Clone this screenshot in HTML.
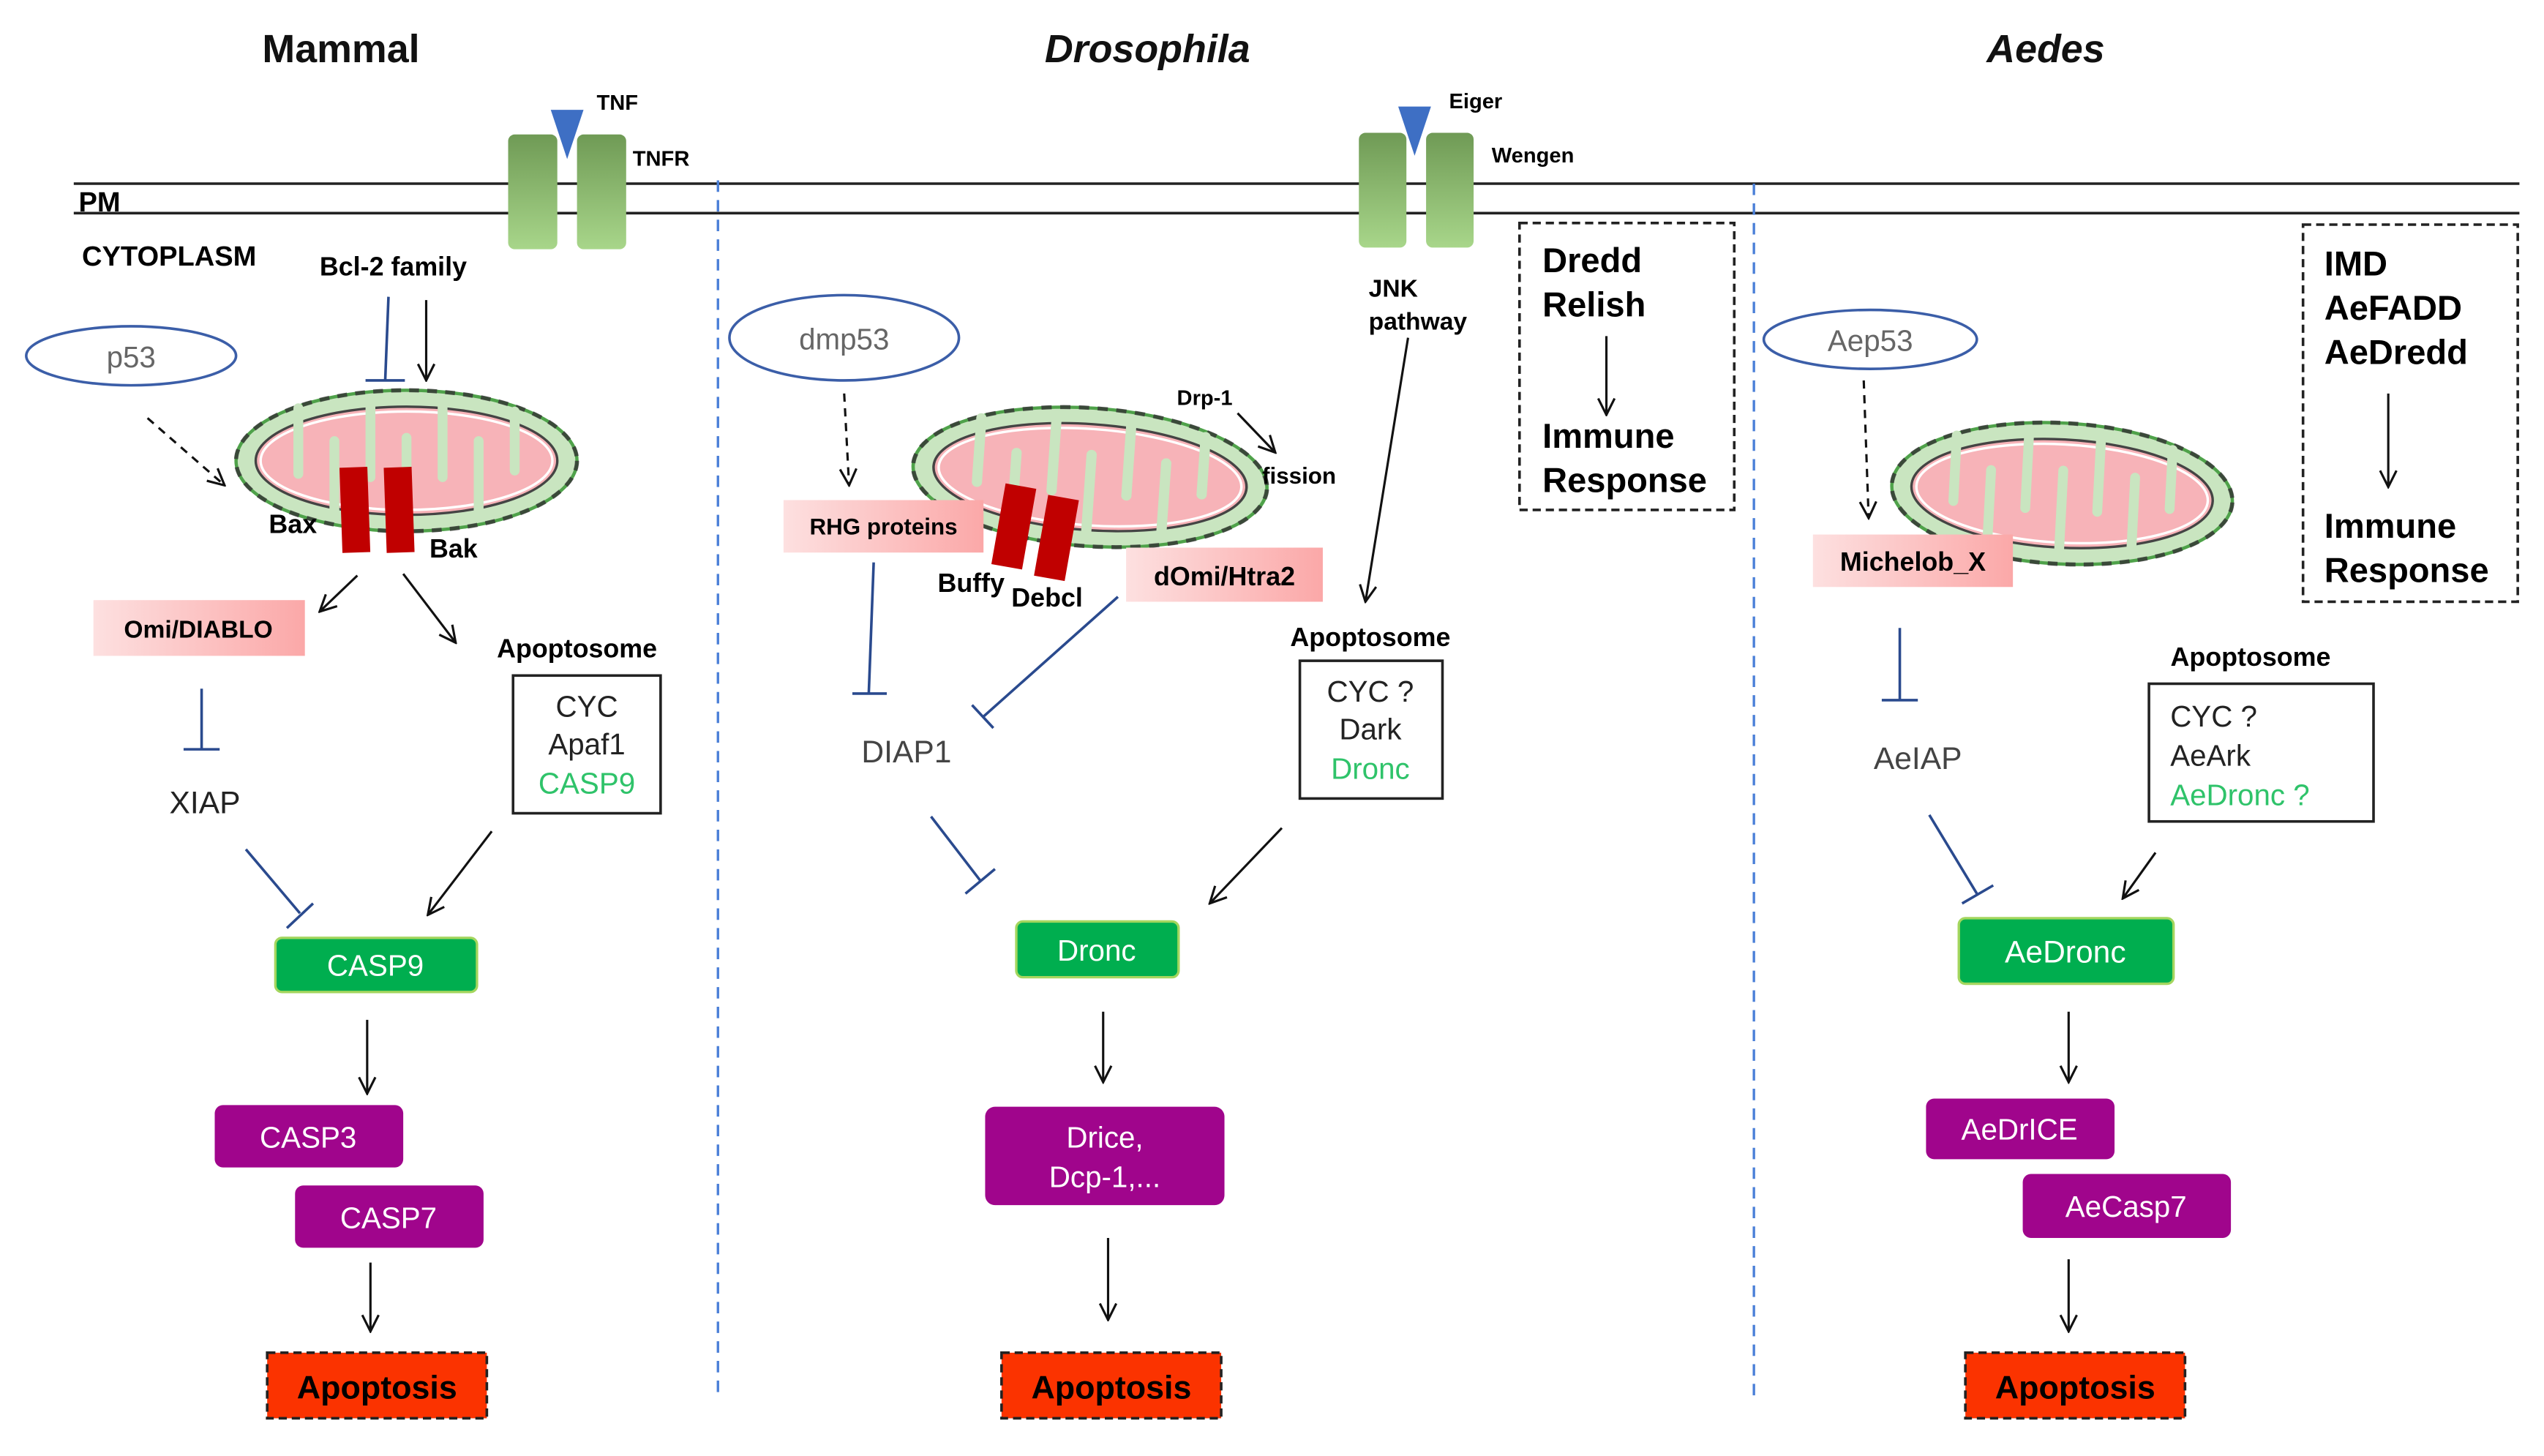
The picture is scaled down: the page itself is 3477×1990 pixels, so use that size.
<!DOCTYPE html>
<html><head><meta charset="utf-8"><style>html,body{margin:0;padding:0;background:#fff}svg{display:block}</style></head>
<body>
<svg width="3477" height="1990" viewBox="0 0 1552 888" preserveAspectRatio="none" xmlns="http://www.w3.org/2000/svg" font-family="Liberation Sans, sans-serif">
<defs>
<marker id="ar" viewBox="0 0 12 12" refX="11" refY="6" markerWidth="12" markerHeight="12" markerUnits="userSpaceOnUse" orient="auto"><path d="M1,1 L11,6 L1,11" fill="none" stroke="#111" stroke-width="1.4"/></marker>
<linearGradient id="rg" x1="0" y1="0" x2="0" y2="1"><stop offset="0" stop-color="#6f9a55"/><stop offset="1" stop-color="#a8d68a"/></linearGradient>
<linearGradient id="pg" x1="0" y1="0" x2="1" y2="0"><stop offset="0" stop-color="#fde0e0"/><stop offset="1" stop-color="#fba8a8"/></linearGradient>
<g id="mito">
<ellipse cx="0" cy="0" rx="104" ry="43" fill="#c9e5c0" stroke="#4fa24a" stroke-width="2"/>
<ellipse cx="0" cy="0" rx="104" ry="43" fill="none" stroke="#333" stroke-width="2.5" stroke-dasharray="6 5" opacity="0.8"/>
<ellipse cx="0" cy="0" rx="92" ry="33" fill="#f7b3b8" stroke="#444" stroke-width="1.5"/>
<ellipse cx="0" cy="0" rx="89" ry="30" fill="none" stroke="#fff" stroke-width="1.5"/>
<g stroke="#c9e5c0" stroke-width="6" stroke-linecap="round">
<line x1="-66" y1="-32" x2="-66" y2="8"/><line x1="-44" y1="32" x2="-44" y2="-12"/>
<line x1="-22" y1="-34" x2="-22" y2="10"/><line x1="0" y1="34" x2="0" y2="-14"/>
<line x1="22" y1="-34" x2="22" y2="10"/><line x1="44" y1="32" x2="44" y2="-12"/>
<line x1="66" y1="-30" x2="66" y2="6"/>
</g>
</g>
</defs>

<!-- titles -->
<g font-weight="bold" font-size="24" text-anchor="middle" fill="#111">
<text x="208" y="38">Mammal</text>
<text x="700" y="38" font-style="italic">Drosophila</text>
<text x="1248" y="38" font-style="italic">Aedes</text>
</g>

<!-- membrane -->
<line x1="45" y1="112" x2="1537" y2="112" stroke="#222" stroke-width="1.6"/>
<line x1="45" y1="130" x2="1537" y2="130" stroke="#222" stroke-width="1.6"/>
<text x="48" y="129" font-weight="bold" font-size="17">PM</text>
<line x1="438" y1="110" x2="438" y2="850" stroke="#4a7fd8" stroke-width="1.5" stroke-dasharray="7 5"/>
<line x1="1070" y1="112" x2="1070" y2="855" stroke="#4a7fd8" stroke-width="1.5" stroke-dasharray="7 5"/>

<!-- receptors -->
<rect x="310" y="82" width="30" height="70" rx="4" fill="url(#rg)"/>
<rect x="352" y="82" width="30" height="70" rx="4" fill="url(#rg)"/>
<polygon points="336,67 356,67 346,97" fill="#3e6fc4"/>
<text x="364" y="67" font-size="13" font-weight="bold">TNF</text>
<text x="386" y="101" font-size="13" font-weight="bold">TNFR</text>
<rect x="829" y="81" width="29" height="70" rx="4" fill="url(#rg)"/>
<rect x="870" y="81" width="29" height="70" rx="4" fill="url(#rg)"/>
<polygon points="853,65 873,65 863,95" fill="#3e6fc4"/>
<text x="884" y="66" font-size="13" font-weight="bold">Eiger</text>
<text x="910" y="99" font-size="13" font-weight="bold">Wengen</text>

<!-- ===== Mammal ===== -->
<text x="50" y="162" font-size="17" font-weight="bold">CYTOPLASM</text>
<text x="195" y="168" font-size="16" font-weight="bold">Bcl-2 family</text>
<ellipse cx="80" cy="217" rx="64" ry="18" fill="none" stroke="#3b5ea8" stroke-width="1.6"/>
<text x="80" y="224" font-size="18" text-anchor="middle" fill="#666">p53</text>
<line x1="237" y1="181" x2="235" y2="232" stroke="#2a4a8e" stroke-width="1.6"/>
<line x1="223" y1="232" x2="247" y2="232" stroke="#2a4a8e" stroke-width="1.6"/>
<line x1="260" y1="183" x2="260" y2="232" stroke="#111" stroke-width="1.4" marker-end="url(#ar)"/>
<line x1="90" y1="255" x2="137" y2="296" stroke="#111" stroke-width="1.4" stroke-dasharray="5 4" marker-end="url(#ar)"/>
<use href="#mito" transform="translate(248,281)"/>
<rect x="208" y="285" width="17" height="52" fill="#c00000" transform="rotate(-2 216 311)"/>
<rect x="235" y="285" width="17" height="52" fill="#c00000" transform="rotate(-2 243 311)"/>
<text x="164" y="325" font-size="16" font-weight="bold">Bax</text>
<text x="262" y="340" font-size="16" font-weight="bold">Bak</text>
<line x1="218" y1="351" x2="195" y2="373" stroke="#111" stroke-width="1.4" marker-end="url(#ar)"/>
<line x1="246" y1="350" x2="278" y2="392" stroke="#111" stroke-width="1.4" marker-end="url(#ar)"/>
<rect x="57" y="366" width="129" height="34" fill="url(#pg)"/>
<text x="121" y="389" font-size="15" font-weight="bold" text-anchor="middle">Omi/DIABLO</text>
<line x1="123" y1="420" x2="123" y2="457" stroke="#2a4a8e" stroke-width="1.6"/>
<line x1="112" y1="457" x2="134" y2="457" stroke="#2a4a8e" stroke-width="1.6"/>
<text x="125" y="496" font-size="19" text-anchor="middle" fill="#222">XIAP</text>
<text x="352" y="401" font-size="16" font-weight="bold" text-anchor="middle">Apoptosome</text>
<rect x="313" y="412" width="90" height="84" fill="#fff" stroke="#222" stroke-width="1.6"/>
<g font-size="18" text-anchor="middle"><text x="358" y="437" fill="#222">CYC</text><text x="358" y="460" fill="#222">Apaf1</text><text x="358" y="484" fill="#2fc36a">CASP9</text></g>
<line x1="150" y1="518" x2="183" y2="557" stroke="#2a4a8e" stroke-width="1.6"/>
<line x1="175" y1="566" x2="191" y2="551" stroke="#2a4a8e" stroke-width="1.6"/>
<line x1="300" y1="507" x2="261" y2="558" stroke="#111" stroke-width="1.4" marker-end="url(#ar)"/>
<rect x="168" y="572" width="123" height="33" rx="4" fill="#00ae4f" stroke="#a4d65e" stroke-width="1.5"/>
<text x="229" y="595" font-size="18" text-anchor="middle" fill="#fff">CASP9</text>
<line x1="224" y1="622" x2="224" y2="667" stroke="#111" stroke-width="1.4" marker-end="url(#ar)"/>
<rect x="131" y="674" width="115" height="38" rx="5" fill="#a0058c"/>
<text x="188" y="700" font-size="18" text-anchor="middle" fill="#fff">CASP3</text>
<rect x="180" y="723" width="115" height="38" rx="5" fill="#a0058c"/>
<text x="237" y="749" font-size="18" text-anchor="middle" fill="#fff">CASP7</text>
<line x1="226" y1="770" x2="226" y2="812" stroke="#111" stroke-width="1.4" marker-end="url(#ar)"/>
<rect x="163" y="825" width="134" height="40" fill="#fb3300" stroke="#222" stroke-width="1.6" stroke-dasharray="5 3"/>
<text x="230" y="853" font-size="20" font-weight="bold" text-anchor="middle">Apoptosis</text>

<!-- ===== Drosophila ===== -->
<ellipse cx="515" cy="206" rx="70" ry="26" fill="none" stroke="#3b5ea8" stroke-width="1.6"/>
<text x="515" y="213" font-size="18" text-anchor="middle" fill="#666">dmp53</text>
<line x1="515" y1="240" x2="518" y2="296" stroke="#111" stroke-width="1.4" stroke-dasharray="5 4" marker-end="url(#ar)"/>
<use href="#mito" transform="translate(665,291) rotate(4) scale(1.04,0.98)"/>
<text x="718" y="247" font-size="13" font-weight="bold">Drp-1</text>
<line x1="755" y1="252" x2="778" y2="276" stroke="#111" stroke-width="1.4" marker-end="url(#ar)"/>
<text x="770" y="295" font-size="14" font-weight="bold">fission</text>
<rect x="478" y="305" width="122" height="32" fill="url(#pg)"/>
<text x="539" y="326" font-size="14" font-weight="bold" text-anchor="middle">RHG proteins</text>
<rect x="609" y="296" width="19" height="50" fill="#c00000" transform="rotate(10 618 321)"/>
<rect x="635" y="303" width="19" height="50" fill="#c00000" transform="rotate(10 644 328)"/>
<text x="572" y="361" font-size="16" font-weight="bold">Buffy</text>
<text x="617" y="370" font-size="16" font-weight="bold">Debcl</text>
<rect x="687" y="334" width="120" height="33" fill="url(#pg)"/>
<text x="747" y="357" font-size="16" font-weight="bold" text-anchor="middle">dOmi/Htra2</text>
<line x1="533" y1="343" x2="530" y2="423" stroke="#2a4a8e" stroke-width="1.6"/>
<line x1="520" y1="423" x2="541" y2="423" stroke="#2a4a8e" stroke-width="1.6"/>
<text x="553" y="465" font-size="19" text-anchor="middle" fill="#444">DIAP1</text>
<line x1="682" y1="364" x2="600" y2="437" stroke="#2a4a8e" stroke-width="1.6"/>
<line x1="593" y1="430" x2="606" y2="444" stroke="#2a4a8e" stroke-width="1.6"/>
<text x="835" y="181" font-size="15" font-weight="bold">JNK</text>
<text x="835" y="201" font-size="15" font-weight="bold">pathway</text>
<line x1="859" y1="206" x2="833" y2="367" stroke="#111" stroke-width="1.4" marker-end="url(#ar)"/>
<text x="836" y="394" font-size="16" font-weight="bold" text-anchor="middle">Apoptosome</text>
<rect x="793" y="403" width="87" height="84" fill="#fff" stroke="#222" stroke-width="1.6"/>
<g font-size="18" text-anchor="middle"><text x="836" y="428" fill="#222">CYC ?</text><text x="836" y="451" fill="#222">Dark</text><text x="836" y="475" fill="#2fc36a">Dronc</text></g>
<rect x="927" y="136" width="131" height="175" fill="none" stroke="#222" stroke-width="1.6" stroke-dasharray="5 3"/>
<g font-size="21" font-weight="bold"><text x="941" y="166">Dredd</text><text x="941" y="193">Relish</text><text x="941" y="273">Immune</text><text x="941" y="300">Response</text></g>
<line x1="980" y1="205" x2="980" y2="253" stroke="#111" stroke-width="1.4" marker-end="url(#ar)"/>
<line x1="568" y1="498" x2="598" y2="537" stroke="#2a4a8e" stroke-width="1.6"/>
<line x1="589" y1="545" x2="607" y2="530" stroke="#2a4a8e" stroke-width="1.6"/>
<line x1="782" y1="505" x2="738" y2="551" stroke="#111" stroke-width="1.4" marker-end="url(#ar)"/>
<rect x="620" y="562" width="99" height="34" rx="4" fill="#00ae4f" stroke="#a4d65e" stroke-width="1.5"/>
<text x="669" y="586" font-size="18" text-anchor="middle" fill="#fff">Dronc</text>
<line x1="673" y1="617" x2="673" y2="660" stroke="#111" stroke-width="1.4" marker-end="url(#ar)"/>
<rect x="601" y="675" width="146" height="60" rx="6" fill="#a0058c"/>
<text x="674" y="700" font-size="18" text-anchor="middle" fill="#fff">Drice,</text>
<text x="674" y="724" font-size="18" text-anchor="middle" fill="#fff">Dcp-1,...</text>
<line x1="676" y1="755" x2="676" y2="805" stroke="#111" stroke-width="1.4" marker-end="url(#ar)"/>
<rect x="611" y="825" width="134" height="40" fill="#fb3300" stroke="#222" stroke-width="1.6" stroke-dasharray="5 3"/>
<text x="678" y="853" font-size="20" font-weight="bold" text-anchor="middle">Apoptosis</text>

<!-- ===== Aedes ===== -->
<ellipse cx="1141" cy="207" rx="65" ry="18" fill="none" stroke="#3b5ea8" stroke-width="1.6"/>
<text x="1141" y="214" font-size="18" text-anchor="middle" fill="#666">Aep53</text>
<line x1="1137" y1="232" x2="1140" y2="316" stroke="#111" stroke-width="1.4" stroke-dasharray="5 4" marker-end="url(#ar)"/>
<use href="#mito" transform="translate(1258,301) rotate(3)"/>
<rect x="1106" y="326" width="122" height="32" fill="url(#pg)"/>
<text x="1167" y="348" font-size="16" font-weight="bold" text-anchor="middle">Michelob_X</text>
<rect x="1405" y="137" width="131" height="230" fill="none" stroke="#222" stroke-width="1.6" stroke-dasharray="5 3"/>
<g font-size="21" font-weight="bold"><text x="1418" y="168">IMD</text><text x="1418" y="195">AeFADD</text><text x="1418" y="222">AeDredd</text><text x="1418" y="328">Immune</text><text x="1418" y="355">Response</text></g>
<line x1="1457" y1="240" x2="1457" y2="297" stroke="#111" stroke-width="1.4" marker-end="url(#ar)"/>
<line x1="1159" y1="383" x2="1159" y2="427" stroke="#2a4a8e" stroke-width="1.6"/>
<line x1="1148" y1="427" x2="1170" y2="427" stroke="#2a4a8e" stroke-width="1.6"/>
<text x="1170" y="469" font-size="19" text-anchor="middle" fill="#444">AeIAP</text>
<text x="1373" y="406" font-size="16" font-weight="bold" text-anchor="middle">Apoptosome</text>
<rect x="1311" y="417" width="137" height="84" fill="#fff" stroke="#222" stroke-width="1.6"/>
<g font-size="18"><text x="1324" y="443" fill="#222">CYC ?</text><text x="1324" y="467" fill="#222">AeArk</text><text x="1324" y="491" fill="#2fc36a">AeDronc ?</text></g>
<line x1="1177" y1="497" x2="1206" y2="545" stroke="#2a4a8e" stroke-width="1.6"/>
<line x1="1197" y1="551" x2="1216" y2="540" stroke="#2a4a8e" stroke-width="1.6"/>
<line x1="1315" y1="520" x2="1295" y2="548" stroke="#111" stroke-width="1.4" marker-end="url(#ar)"/>
<rect x="1195" y="560" width="131" height="40" rx="4" fill="#00ae4f" stroke="#a4d65e" stroke-width="1.5"/>
<text x="1260" y="587" font-size="19" text-anchor="middle" fill="#fff">AeDronc</text>
<line x1="1262" y1="617" x2="1262" y2="660" stroke="#111" stroke-width="1.4" marker-end="url(#ar)"/>
<rect x="1175" y="670" width="115" height="37" rx="5" fill="#a0058c"/>
<text x="1232" y="695" font-size="18" text-anchor="middle" fill="#fff">AeDrICE</text>
<rect x="1234" y="716" width="127" height="39" rx="5" fill="#a0058c"/>
<text x="1297" y="742" font-size="18" text-anchor="middle" fill="#fff">AeCasp7</text>
<line x1="1262" y1="768" x2="1262" y2="812" stroke="#111" stroke-width="1.4" marker-end="url(#ar)"/>
<rect x="1199" y="825" width="134" height="40" fill="#fb3300" stroke="#222" stroke-width="1.6" stroke-dasharray="5 3"/>
<text x="1266" y="853" font-size="20" font-weight="bold" text-anchor="middle">Apoptosis</text>
</svg>
</body></html>
